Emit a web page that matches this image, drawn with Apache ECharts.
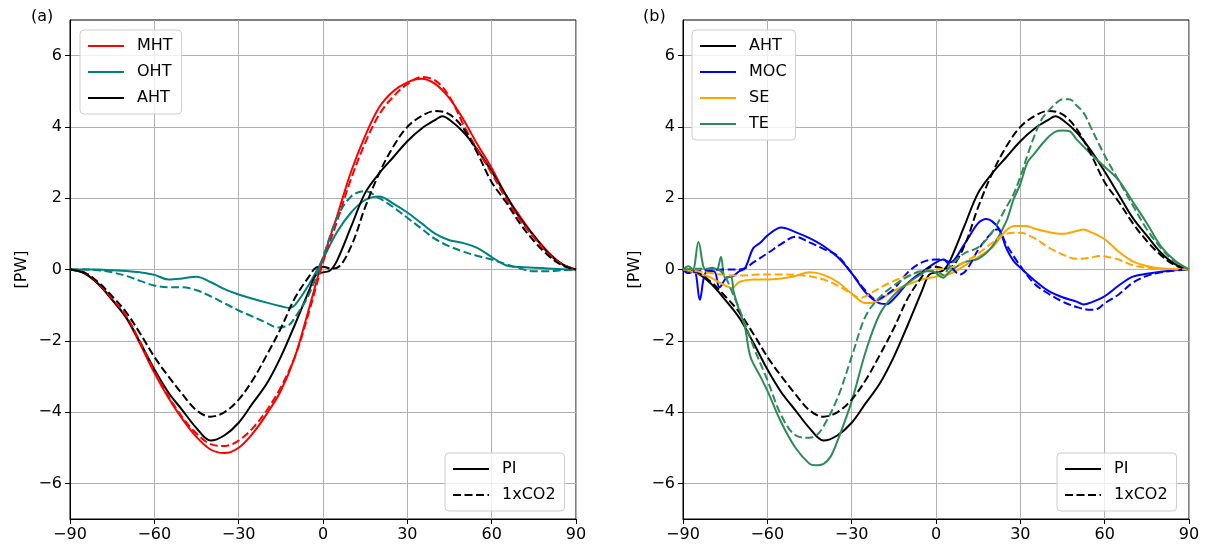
<!DOCTYPE html>
<html><head><meta charset="utf-8">
<script src="https://cdn.jsdelivr.net/npm/echarts@6/dist/echarts.min.js"></script>
<style>html,body{margin:0;padding:0;background:#fff}#c{width:1207px;height:548px}</style>
</head><body><div id="c"></div><script>
// ---- tick labels ----
const xTicks = [-90, -60, -30, 0, 30, 60, 90];
const yTicks = [-6, -4, -2, 0, 2, 4, 6];

// ---- latitudes ----
const latStd = [-90,-85,-80,-75,-70,-65,-60,-55,-50,-45,-40,-35,-30,-25,-20,-15,-10,-5,0,5,10,15,20,25,30,35,40,45,50,55,60,65,70,75,80,85,90];

// ---- panel (a) ----
const mhtPI  = [0,-0.1,-0.4,-0.85,-1.35,-2.1,-2.9,-3.6,-4.2,-4.7,-5.05,-5.15,-5.0,-4.6,-4.05,-3.4,-2.45,-1.1,0.3,1.5,2.75,3.75,4.55,5.0,5.25,5.35,5.2,4.8,4.2,3.5,2.85,2.1,1.5,0.95,0.5,0.15,0];
const mhtCO2 = [0,-0.08,-0.38,-0.82,-1.3,-2.05,-2.85,-3.55,-4.15,-4.6,-4.9,-4.95,-4.8,-4.45,-3.95,-3.3,-2.45,-1.2,0.2,1.35,2.55,3.55,4.35,4.85,5.2,5.4,5.3,4.85,4.05,3.35,2.7,2.0,1.4,0.9,0.45,0.15,0];

const latAhtPI = [-90,-85,-80,-75,-70,-65,-60,-55,-50,-45,-40,-35,-30,-25,-20,-15,-10,-5,-2.5,0,2.5,5,10,15,20,25,30,35,40,42.5,45,50,55,60,65,70,75,80,85,90];
const ahtPI    = [0,-0.1,-0.4,-0.85,-1.35,-2.05,-2.8,-3.45,-3.95,-4.45,-4.8,-4.65,-4.3,-3.75,-3.2,-2.45,-1.55,-0.6,-0.15,-0.08,-0.03,0.25,1.2,2.15,2.7,3.15,3.6,3.95,4.2,4.3,4.2,3.85,3.35,2.75,2.1,1.45,0.95,0.47,0.15,0];
const latAhtCO2 = [-90,-85,-80,-75,-70,-65,-60,-55,-50,-45,-40,-35,-30,-25,-20,-15,-10,-5,-2.5,0,2.5,5,10,15,20,25,30,35,40,45,50,55,60,65,70,75,80,85,90];
const ahtCO2    = [0,-0.08,-0.35,-0.75,-1.2,-1.8,-2.45,-3.0,-3.5,-3.95,-4.13,-4.0,-3.65,-3.1,-2.4,-1.65,-0.8,-0.2,0.05,0.08,0.03,0.05,0.65,1.75,2.7,3.45,4.0,4.3,4.45,4.35,3.95,3.25,2.45,1.9,1.3,0.8,0.4,0.12,0];

const latOhtPI = [-90,-85,-80,-75,-70,-65,-60,-55,-50,-45,-40,-35,-30,-25,-20,-15,-12,-10,-5,0,5,10,15,20,25,30,35,40,45,50,55,60,65,70,75,80,85,90];
const ohtPI    = [0,0,0,-0.02,-0.04,-0.08,-0.15,-0.28,-0.25,-0.2,-0.35,-0.55,-0.7,-0.82,-0.93,-1.03,-1.08,-1.0,-0.42,0.3,1.05,1.6,1.95,2.05,1.85,1.6,1.3,1.0,0.82,0.74,0.6,0.35,0.12,0.07,0.05,0.03,0.01,0];
const latOhtCO2 = [-90,-85,-80,-75,-70,-65,-60,-55,-50,-45,-40,-35,-30,-25,-20,-16,-12,-10,-5,0,5,10,15,20,25,30,35,40,45,50,55,60,65,70,75,80,85,90];
const ohtCO2    = [0,0,-0.02,-0.08,-0.18,-0.32,-0.45,-0.5,-0.5,-0.58,-0.75,-0.95,-1.15,-1.32,-1.5,-1.63,-1.55,-1.35,-0.7,0.35,1.45,2.05,2.2,2.0,1.75,1.45,1.15,0.85,0.65,0.5,0.38,0.28,0.15,0.03,-0.05,-0.05,-0.02,0];

// ---- panel (b) ----
const latMocPI = [-90,-88,-86,-84,-82,-79,-77,-74.5,-72.5,-70,-68,-65,-62.5,-60,-55,-50,-45,-40,-35,-30,-25,-20,-17.5,-15,-10,-5,0,2.5,5,10,15,18,20,22.5,25,27.5,30,35,40,45,50,52.5,55,60,65,70,75,80,85,90];
const mocPI    = [0,-0.1,-0.05,-0.85,-0.1,-0.05,-0.5,-0.23,-0.2,-0.05,0.03,0.6,0.75,0.95,1.18,1.05,0.88,0.66,0.35,-0.1,-0.65,-0.95,-0.97,-0.82,-0.38,-0.07,0.2,0.28,0.2,0.7,1.3,1.42,1.35,1.13,0.6,0.25,0.05,-0.3,-0.6,-0.78,-0.9,-0.98,-0.93,-0.75,-0.45,-0.2,-0.12,-0.06,-0.02,0];
const latMocCO2 = [-90,-88,-85,-80,-75,-70,-67.5,-65,-60,-55,-50,-45,-40,-35,-30,-25,-21,-17.5,-15,-10,-5,0,2.5,5,8.5,11,15,20,22,25,30,35,40,45,50,55,57,60,65,70,75,80,85,90];
const mocCO2    = [0,-0.1,-0.05,-0.02,0,0,0.05,0.2,0.45,0.72,0.92,0.76,0.58,0.38,-0.1,-0.6,-0.85,-0.7,-0.55,-0.08,0.2,0.28,0.28,0.1,-0.14,0,0.55,1.05,1.13,0.7,0.1,-0.4,-0.68,-0.9,-1.05,-1.13,-1.12,-0.95,-0.7,-0.37,-0.18,-0.08,-0.03,0];

const latSePI = [-90,-85,-80,-77.5,-75,-72.5,-70,-65,-60,-55,-50,-45,-40,-35,-30,-25,-22.5,-20,-15,-10,-5,0,5,10,15,20,25,28,32,35,40,45,50,52.5,55,60,65,70,75,80,85,90];
const sePI    = [0,-0.1,-0.23,-0.35,-0.45,-0.52,-0.35,-0.28,-0.28,-0.25,-0.18,-0.08,-0.15,-0.35,-0.68,-0.94,-0.93,-0.85,-0.6,-0.42,-0.28,-0.2,-0.12,0.1,0.35,0.62,1.1,1.22,1.22,1.15,1.05,1.0,1.08,1.12,1.05,0.85,0.5,0.23,0.1,0.03,0.01,0];
const latSeCO2 = [-90,-85,-80,-75,-70,-65,-60,-55,-50,-45,-40,-35,-30,-27,-25,-20,-15,-10,-5,0,5,10,15,20,25,30,35,40,45,50,55,58,62.5,65,70,75,80,85,90];
const seCO2    = [0,-0.05,-0.1,-0.15,-0.17,-0.15,-0.14,-0.14,-0.15,-0.19,-0.28,-0.45,-0.68,-0.8,-0.75,-0.52,-0.32,-0.18,-0.05,0,0.05,0.2,0.45,0.75,1.0,1.03,0.88,0.62,0.42,0.3,0.33,0.38,0.33,0.28,0.12,0.05,0.02,0.01,0];

const latTePI = [-90,-88,-86.5,-84.5,-82,-79.5,-78,-76.5,-75,-73,-72,-70,-68,-66,-62.5,-60,-55,-50,-45,-43,-40,-37.5,-35,-30,-25,-20,-15,-10,-5,-2.5,0,2.5,5,10,15,20,25,27.5,30,32.5,35,37.5,40,42.5,45,47.5,50,55,60,65,70,75,80,85,90];
const tePI    = [0,0.09,0,0.77,0,0.05,0,0.35,-0.23,-0.2,-0.62,-1.15,-1.6,-2.45,-3.0,-3.4,-4.3,-5.0,-5.45,-5.49,-5.45,-5.25,-4.8,-3.7,-2.3,-1.25,-0.72,-0.38,-0.12,0,-0.1,-0.23,-0.05,0.2,0.3,0.65,1.35,1.95,2.4,3.0,3.25,3.5,3.72,3.87,3.9,3.88,3.65,3.25,2.88,2.5,1.9,1.3,0.65,0.25,0];
const latTeCO2 = [-90,-85,-80,-77.5,-75,-73,-70,-65,-60,-55,-50,-45,-42.5,-40,-35,-30,-25,-20,-15,-10,-5,0,2.5,5,10,15,20,25,27.5,30,32.5,35,37.5,40,42.5,45,47.5,50,52.5,55,60,65,70,75,80,85,90];
const teCO2    = [0,0.02,0.02,0,-0.2,-0.55,-1.1,-2.15,-3.1,-4.1,-4.65,-4.72,-4.65,-4.4,-3.6,-2.45,-1.3,-0.78,-0.45,-0.2,-0.05,-0.05,-0.15,0.1,0.45,0.62,1.05,1.75,2.1,2.6,3.2,3.75,4.2,4.45,4.65,4.78,4.78,4.6,4.4,4.0,3.2,2.5,1.8,1.13,0.6,0.22,0];

// ---- colours ----
const C = {MHT:'#ff0000', OHT:'#008080', AHT:'#000000', MOC:'#0000ff', SE:'#ffa500', TE:'#2e8b57'};

const FONT = 'DejaVu Sans';
const DASH = [8, 3.5];
const zip = (lat, v) => lat.map((x, i) => [x, v[i]]);
const minus = v => (v < 0 ? '\u2212' + (-v) : String(v));

function line(name, lat, vals, color, dashed, g) {
  return {
    type: 'line', name, xAxisIndex: g, yAxisIndex: g,
    data: zip(lat, vals), showSymbol: false, symbol: 'none',
    smooth: 0.35, clip: true, animation: false,
    lineStyle: {color, width: 2, type: dashed ? DASH : 'solid'},
    itemStyle: {color}
  };
}
function dummy(name, dashed, g) {
  return {type: 'line', name, xAxisIndex: g, yAxisIndex: g, data: [], symbol: 'none',
    lineStyle: {color: '#000', width: 2, type: dashed ? DASH : 'solid'}, itemStyle: {color: '#000'}};
}

function xAxis(g) {
  return {
    type: 'value', gridIndex: g, min: -90, max: 90, interval: 30,
    axisLine: {show: true, onZero: false, lineStyle: {color: '#000', width: 1}},
    axisTick: {show: true, length: 5, lineStyle: {color: '#000', width: 1}},
    axisLabel: {color: '#000', fontSize: 16, fontFamily: FONT, margin: 8, formatter: minus},
    splitLine: {show: true, lineStyle: {color: '#b0b0b0', width: 1}}
  };
}
function yAxis(g) {
  return {
    type: 'value', gridIndex: g, min: -7, max: 7,
    name: '[PW]', nameLocation: 'middle', nameGap: 40, nameRotate: 90,
    nameTextStyle: {color: '#000', fontSize: 16, fontFamily: FONT},
    axisLine: {show: true, onZero: false, lineStyle: {color: '#000', width: 1}},
    axisTick: {show: true, length: 5, customValues: yTicks, lineStyle: {color: '#000', width: 1}},
    axisLabel: {color: '#000', fontSize: 16, fontFamily: FONT, margin: 8, customValues: yTicks, formatter: minus},
    splitLine: {show: true, lineStyle: {color: '#b0b0b0', width: 1}}
  };
}
function legend(names, left, top) {
  return {
    data: names, orient: 'vertical', left, top, selectedMode: false,
    itemWidth: 36, itemHeight: 16, itemGap: 10,
    itemStyle: {opacity: 0},
    padding: [8, 9, 8, 7], backgroundColor: 'rgba(255,255,255,0.8)',
    borderColor: '#cccccc', borderWidth: 1, borderRadius: 4,
    textStyle: {color: '#000', fontSize: 16, lineHeight: 16, fontFamily: FONT, padding: [0, 0, 0, 8]}
  };
}

const gridBase = {top: 20, bottom: 29, show: true, borderColor: '#000', borderWidth: 1, backgroundColor: 'transparent', containLabel: false};

const option = {
  animation: false,
  backgroundColor: '#fff',
  textStyle: {fontFamily: FONT},
  title: [
    {text: '(a)', left: 31, top: 9, padding: 0, textStyle: {fontSize: 16, fontWeight: 'normal', color: '#000', fontFamily: FONT}},
    {text: '(b)', left: 643, top: 9, padding: 0, textStyle: {fontSize: 16, fontWeight: 'normal', color: '#000', fontFamily: FONT}}
  ],
  grid: [
    Object.assign({left: 70, right: 631}, gridBase),
    Object.assign({left: 683, right: 18}, gridBase)
  ],
  xAxis: [xAxis(0), xAxis(1)],
  yAxis: [yAxis(0), yAxis(1)],
  legend: [
    legend(['MHT', 'OHT', 'AHT'], 80, 30),
    legend(['PI', '1xCO2'], 445, 453),
    legend(['AHT', 'MOC', 'SE', 'TE'], 692, 30),
    legend(['PI', '1xCO2'], 1057, 453)
  ],
  series: [
    line('MHT', latStd, mhtPI, C.MHT, false, 0),
    line('OHT', latOhtPI, ohtPI, C.OHT, false, 0),
    line('AHT', latAhtPI, ahtPI, C.AHT, false, 0),
    line('MHT', latStd, mhtCO2, C.MHT, true, 0),
    line('OHT', latOhtCO2, ohtCO2, C.OHT, true, 0),
    line('AHT', latAhtCO2, ahtCO2, C.AHT, true, 0),
    dummy('PI', false, 0),
    dummy('1xCO2', true, 0),

    line('AHT', latAhtPI, ahtPI, C.AHT, false, 1),
    line('MOC', latMocPI, mocPI, C.MOC, false, 1),
    line('SE', latSePI, sePI, C.SE, false, 1),
    line('TE', latTePI, tePI, C.TE, false, 1),
    line('AHT', latAhtCO2, ahtCO2, C.AHT, true, 1),
    line('MOC', latMocCO2, mocCO2, C.MOC, true, 1),
    line('SE', latSeCO2, seCO2, C.SE, true, 1),
    line('TE', latTeCO2, teCO2, C.TE, true, 1),
    dummy('PI', false, 1),
    dummy('1xCO2', true, 1)
  ]
};

const chart = echarts.init(document.getElementById('c'), null, {renderer: 'canvas'});
chart.setOption(option);
</script></body></html>
